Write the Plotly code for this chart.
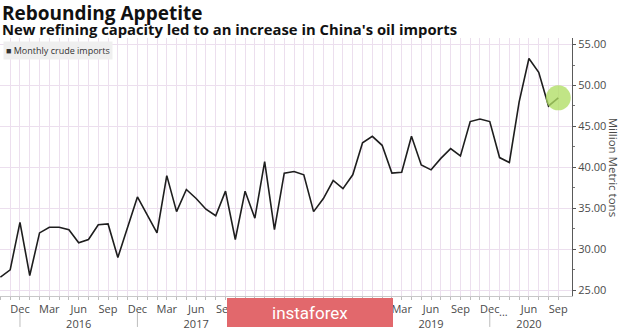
import plotly.graph_objects as go

# Monthly China crude oil imports, million metric tons (Jan/Feb 2020 not reported separately)
months = [
    "Oct 2015", "Nov 2015", "Dec 2015",
    "Jan 2016", "Feb 2016", "Mar 2016", "Apr 2016", "May 2016", "Jun 2016",
    "Jul 2016", "Aug 2016", "Sep 2016", "Oct 2016", "Nov 2016", "Dec 2016",
    "Jan 2017", "Feb 2017", "Mar 2017", "Apr 2017", "May 2017", "Jun 2017",
    "Jul 2017", "Aug 2017", "Sep 2017", "Oct 2017", "Nov 2017", "Dec 2017",
    "Jan 2018", "Feb 2018", "Mar 2018", "Apr 2018", "May 2018", "Jun 2018",
    "Jul 2018", "Aug 2018", "Sep 2018", "Oct 2018", "Nov 2018", "Dec 2018",
    "Jan 2019", "Feb 2019", "Mar 2019", "Apr 2019", "May 2019", "Jun 2019",
    "Jul 2019", "Aug 2019", "Sep 2019", "Oct 2019", "Nov 2019", "Dec 2019",
    "Mar 2020", "Apr 2020", "May 2020", "Jun 2020", "Jul 2020", "Aug 2020", "Sep 2020",
]
imports_2015 = [26.6, 27.5, 33.3]
imports_2016 = [26.8, 32.0, 32.7, 32.7, 32.4, 30.8, 31.2, 33.0, 33.1, 29.0, 32.6, 36.4]
imports_2017 = [34.2, 32.0, 39.0, 34.6, 37.3, 36.2, 34.9, 34.1, 37.1, 31.2, 37.1, 33.8]
imports_2018 = [40.7, 32.4, 39.3, 39.5, 39.1, 34.6, 36.2, 38.4, 37.4, 39.1, 43.0, 43.8]
imports_2019 = [42.7, 39.3, 39.4, 43.8, 40.3, 39.7, 41.1, 42.3, 41.4, 45.6, 45.9, 45.6]
imports_2020 = [41.2, 40.6, 48.0, 53.3, 51.6, 47.5, 48.5]
imports = imports_2015 + imports_2016 + imports_2017 + imports_2018 + imports_2019 + imports_2020

# Labelled months on the time axis (year shown under June); the stretch
# covered by the banner carries no visible labels
labelled = {
    "Dec 2015": "Dec",
    "Mar 2016": "Mar", "Jun 2016": "Jun<br>2016", "Sep 2016": "Sep", "Dec 2016": "Dec",
    "Mar 2017": "Mar", "Jun 2017": "Jun<br>2017", "Sep 2017": "Sep",
    "Mar 2019": "Mar", "Jun 2019": "Jun<br>2019", "Sep 2019": "Sep", "Dec 2019": "Dec",
    "Jun 2020": "Jun<br>2020", "Sep 2020": "Sep",
}
year_breaks = ["Dec 2015", "Dec 2016", "Dec 2017", "Dec 2018", "Dec 2019"]

GRID = "#ecdfee"
TICK = "#4a4a4a"
FONT = "Open Sans"

fig = go.Figure()
fig.add_trace(go.Scatter(
    x=months, y=imports, mode="lines",
    line=dict(color="#1e1e1e", width=1.6),
    hoverinfo="skip", showlegend=False,
))
# highlight on the latest reading
fig.add_trace(go.Scatter(
    x=months[-1:], y=imports[-1:], mode="markers",
    marker=dict(size=25, color="rgba(175,222,100,0.78)", line=dict(width=0)),
    hoverinfo="skip", showlegend=False,
))

fig.update_layout(
    width=620, height=331,
    margin=dict(l=0, r=48, t=38, b=30),
    paper_bgcolor="white", plot_bgcolor="white",
    font=dict(family=FONT, color=TICK),
    xaxis=dict(
        type="category",
        range=[-0.04, 58.4],
        tickmode="array",
        tickvals=months,
        ticktext=[labelled.get(m, "") for m in months],
        tickangle=0,
        ticks="outside", ticklen=3, tickcolor="#bdbdbd",
        showgrid=True, gridcolor=GRID, gridwidth=1,
        showline=True, linecolor="#c8c8c8", linewidth=1,
        tickfont=dict(size=11, color=TICK, family=FONT),
        zeroline=False,
    ),
    yaxis=dict(
        side="right",
        range=[24.3, 55.8],
        tick0=25, dtick=5, tickformat=".2f",
        ticks="outside", ticklen=3, tickcolor="#555",
        minor=dict(dtick=2.5, tick0=25, ticks="outside", ticklen=2, tickcolor="#777", showgrid=False),
        showgrid=True, gridcolor=GRID, gridwidth=1,
        showline=True, linecolor="#5a5a5a", linewidth=1.2,
        tickfont=dict(size=11, color=TICK, family=FONT),
        zeroline=False,
    ),
)

# year separators below the month labels
for m in year_breaks:
    fig.add_shape(type="line", xref="x", yref="paper",
                  x0=m, x1=m, y0=-0.065, y1=-0.12,
                  line=dict(color="#bdbdbd", width=1))

# banner across the bottom axis
fig.add_shape(type="rect", xref="paper", yref="paper", layer="above",
              x0=227 / 572, x1=393 / 572, y0=-0.008, y1=-0.12,
              fillcolor="#e2686c", line=dict(width=0))

annotations = [
    dict(text="<b>Rebounding Appetite</b>", xref="paper", yref="paper",
         x=0, y=1.097, xanchor="left", yanchor="middle", showarrow=False,
         font=dict(size=19, color="#111", family=FONT)),
    dict(text="<b>New refining capacity led to an increase in China's oil imports</b>",
         xref="paper", yref="paper", x=0, y=1.033, xanchor="left", yanchor="middle",
         showarrow=False, font=dict(size=14.8, color="#111", family=FONT)),
    dict(text="■ Monthly crude imports", xref="paper", yref="paper",
         x=0.005, y=0.99, xanchor="left", yanchor="top", showarrow=False,
         bgcolor="#efefef", borderpad=2,
         font=dict(size=9, color="#333", family=FONT)),
    dict(text="Million Metric tons", xref="paper", yref="paper",
         x=1.074, y=0.5, xanchor="center", yanchor="middle", textangle=90,
         showarrow=False, font=dict(size=11.5, color=TICK, family=FONT)),
    dict(text="...", xref="x", yref="paper", x=51.4, y=-0.025,
         xanchor="center", yanchor="top", showarrow=False,
         font=dict(size=11, color=TICK, family=FONT)),
    dict(text="instaforex", xref="paper", yref="paper",
         x=310 / 572, y=-0.064, xanchor="center", yanchor="middle", showarrow=False,
         font=dict(size=17, color="white", family="Roboto")),
]
fig.update_layout(annotations=annotations)

fig.write_html("out.html")
